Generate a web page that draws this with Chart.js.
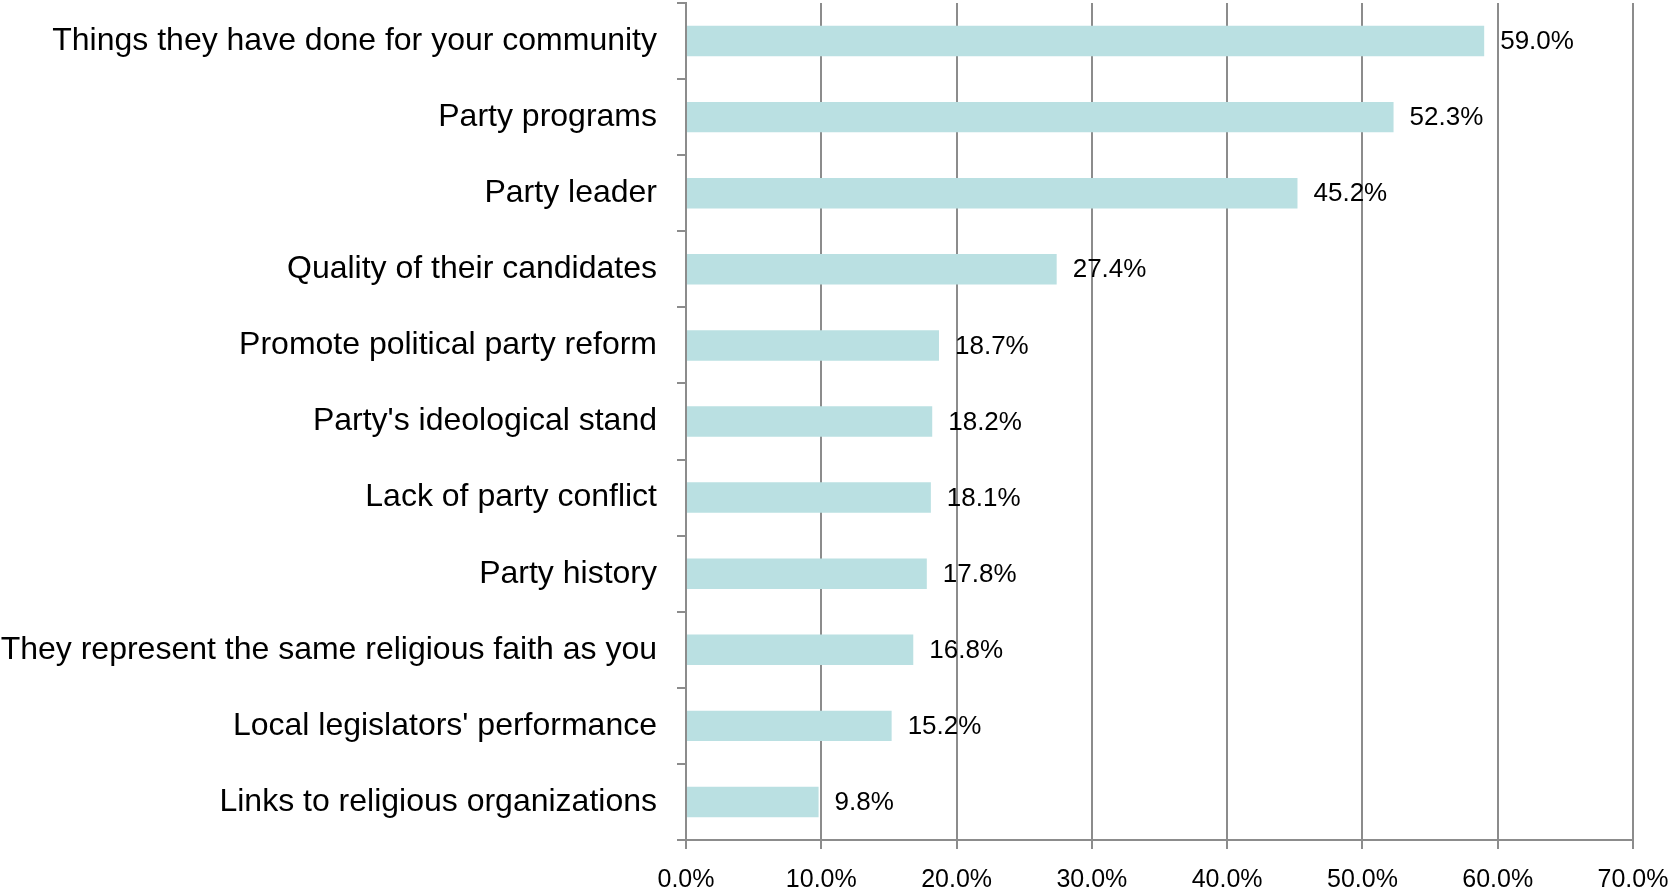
<!DOCTYPE html>
<html>
<head>
<meta charset="utf-8">
<script src="https://cdn.jsdelivr.net/npm/chart.js@4.4.1/dist/chart.umd.min.js"></script>
<style>
  html, body { margin: 0; padding: 0; background: #fff; }
  #wrap { width: 1673px; height: 893px; }
</style>
</head>
<body>
<div id="wrap"><canvas id="chart" width="1673" height="893"></canvas></div>
<script>
const categories = [
  "Things they have done for your community",
  "Party programs",
  "Party leader",
  "Quality of their candidates",
  "Promote political party reform",
  "Party's ideological stand",
  "Lack of party conflict",
  "Party history",
  "They represent the same religious faith as you",
  "Local legislators' performance",
  "Links to religious organizations"
];
const values = [59.0, 52.3, 45.2, 27.4, 18.7, 18.2, 18.1, 17.8, 16.8, 15.2, 9.8];
const xTicks = [0, 10, 20, 30, 40, 50, 60, 70];

const FONT = "'Liberation Sans', Arial, Helvetica, sans-serif";
const GRID = "#8c8c8c";

// value labels to the right of each bar
const barLabels =
{
  id: "barLabels",
  afterDatasetsDraw(chart)
  {
    const ctx = chart.ctx;
    const meta = chart.getDatasetMeta(0);
    ctx.save();
    ctx.font = "26px " + FONT;
    ctx.fillStyle = "#000";
    ctx.textAlign = "left";
    ctx.textBaseline = "middle";
    meta.data.forEach((bar, i) =>
    {
      ctx.fillText(values[i].toFixed(1) + "%", bar.x + 16, bar.y + 1);
    });
    ctx.restore();
  }
};

new Chart(document.getElementById("chart"),
{
  type: "bar",
  data:
  {
    labels: categories,
    datasets: [
    {
      data: values,
      backgroundColor: "#bae0e2",
      barPercentage: 0.4,
      categoryPercentage: 1.0
    }]
  },
  options:
  {
    indexAxis: "y",
    responsive: false,
    animation: false,
    layout: { padding: { top: 3, right: 40, left: 0, bottom: 0 } },
    plugins: { legend: { display: false }, tooltip: { enabled: false } },
    scales:
    {
      x:
      {
        min: 0,
        max: 70,
        afterBuildTicks: s => { s.ticks = xTicks.map(v => ({ value: v })); },
        afterFit: s =>
        {
          s.height = 53;
          s.paddingLeft = 0;
          s.paddingRight = 0;
        },
        grid: { color: GRID, lineWidth: 2, tickLength: 9 },
        border: { color: GRID, width: 2 },
        ticks:
        {
          color: "#000",
          font: { family: FONT, size: 25 },
          padding: 16,
          callback: v => v.toFixed(1) + "%"
        }
      },
      y:
      {
        afterFit: s =>
        {
          s.width = 686;
          s.paddingTop = 0;
          s.paddingBottom = 0;
        },
        grid: { drawOnChartArea: false, color: GRID, lineWidth: 2, tickLength: 9, offset: true },
        border: { color: GRID, width: 2 },
        ticks:
        {
          color: "#000",
          font: { family: FONT, size: 32 },
          padding: 20
        }
      }
    }
  },
  plugins: [barLabels]
});
</script>
</body>
</html>
